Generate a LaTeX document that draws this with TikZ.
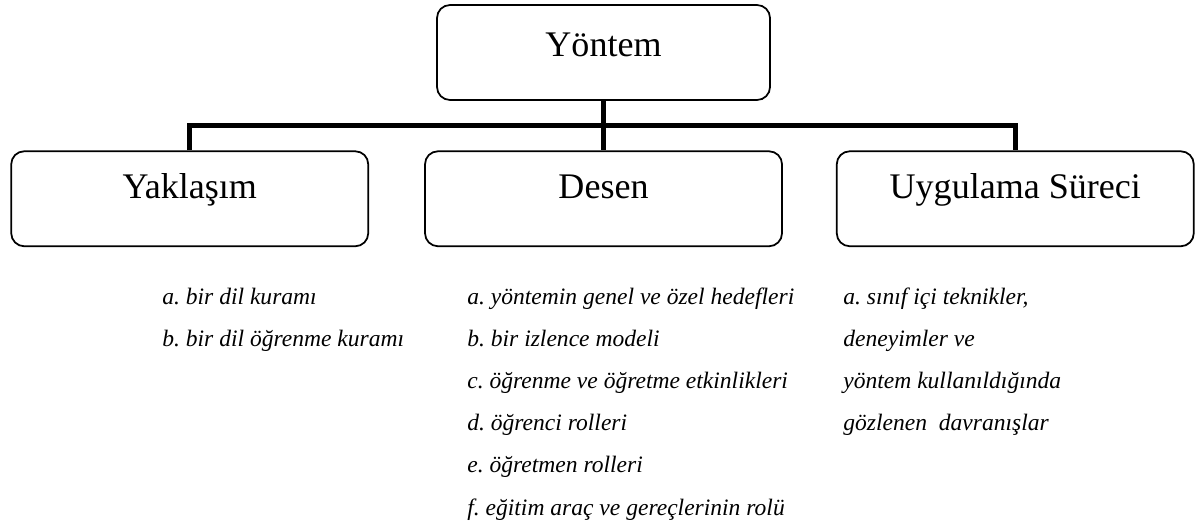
\documentclass[tikz,border=0pt]{standalone}
\usepackage{fontspec}
\setmainfont{Liberation Serif}
\usetikzlibrary{positioning}
\frenchspacing
\newcommand{\boxfont}{\fontsize{20.5}{24}\selectfont}
\newcommand{\itemfont}{\itshape\fontsize{13.4}{16}\selectfont}

\begin{document}
\begin{tikzpicture}[
	box/.style={draw, line width=1pt, rounded corners=0.26cm, minimum width=7.14cm,
		minimum height=1.9cm, inner sep=0pt, font=\boxfont, text height=0.3cm, text depth=0.3cm},
	item/.style={inner sep=0pt, font=\itemfont, text height=0.5cm, text depth=0.33cm},
	link/.style={line width=0.11cm}]
	\useasboundingbox (0,0) rectangle (24.02,-10.42);
	\node[box, minimum width=6.66cm, text height=0.44cm] (yontem) at (12.07,-1.05) {Yöntem};
	\node[box, below=0.99cm of yontem] (desen) {Desen};
	\node[box, left=1.1cm of desen] (yaklasim) {Yaklaşım};
	\node[box, right=1.06cm of desen] (uygulama) {Uygulama Süreci};
	\draw[link] (yontem.south) -- (desen.north);
	\draw[link] (yaklasim.north) -- ++(0,0.5) -| (uygulama.north);
	\node[item, anchor=base west] (yak-a) at (3.24,-6.08) {a. bir dil kuramı};
	\node[item, below=0pt of yak-a.south west, anchor=north west] (yak-b) {b. bir dil öğrenme kuramı};
	\node[item, anchor=base west] (des-a) at (9.34,-6.08) {a. yöntemin genel ve özel hedefleri};
	\node[item, below=0pt of des-a.south west, anchor=north west] (des-b) {b. bir izlence modeli};
	\node[item, below=0pt of des-b.south west, anchor=north west] (des-c) {c. öğrenme ve öğretme etkinlikleri};
	\node[item, below=0pt of des-c.south west, anchor=north west] (des-d) {d. öğrenci rolleri};
	\node[item, below=0pt of des-d.south west, anchor=north west] (des-e) {e. öğretmen rolleri};
	\node[item, below=0pt of des-e.south west, anchor=north west] (des-f) {f. eğitim araç ve gereçlerinin rolü};
	\node[item, anchor=base west] (uyg-a) at (16.86,-6.08) {a. sınıf içi teknikler,};
	\node[item, below=0pt of uyg-a.south west, anchor=north west] (uyg-b) {deneyimler ve};
	\node[item, below=0pt of uyg-b.south west, anchor=north west] (uyg-c) {yöntem kullanıldığında};
	\node[item, below=0pt of uyg-c.south west, anchor=north west] (uyg-d) {gözlenen~ davranışlar};
\end{tikzpicture}
\end{document}
